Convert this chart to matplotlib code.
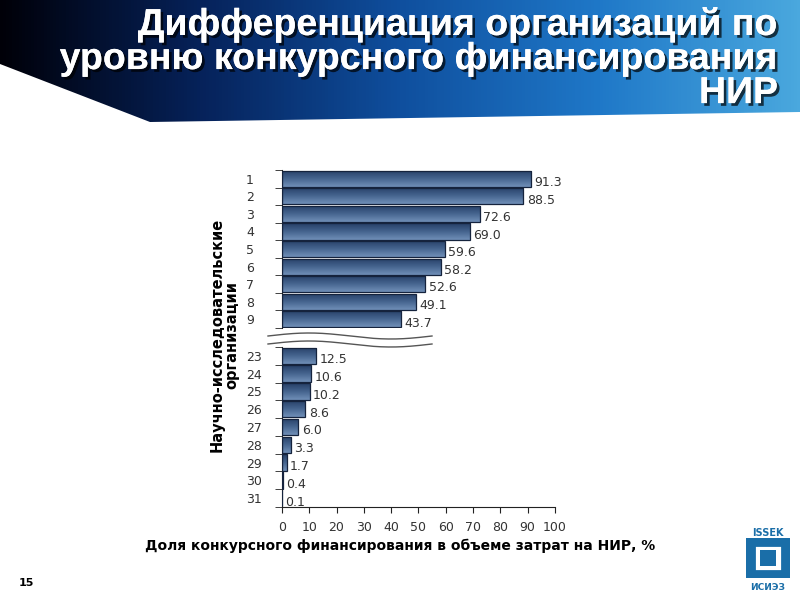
import numpy as np
import matplotlib.pyplot as plt
import matplotlib.patheffects as pe
from matplotlib.patches import Polygon, Rectangle
from matplotlib.colors import LinearSegmentedColormap

# данные
org_top = ['1', '2', '3', '4', '5', '6', '7', '8', '9']
val_top = [91.3, 88.5, 72.6, 69.0, 59.6, 58.2, 52.6, 49.1, 43.7]
org_bot = ['23', '24', '25', '26', '27', '28', '29', '30', '31']
val_bot = [12.5, 10.6, 10.2, 8.6, 6.0, 3.3, 1.7, 0.4, 0.1]
x_ticks = [0, 10, 20, 30, 40, 50, 60, 70, 80, 90, 100]

titulo = 'Дифференциация организаций по\nуровню конкурсного финансирования\nНИР'
eje_y = 'Научно-исследовательские\nорганизации'
eje_x = 'Доля конкурсного финансирования в объеме затрат на НИР, %'

fig = plt.figure(figsize=(8, 6), dpi=100)

# fondo / banner
bg = fig.add_axes([0, 0, 1, 1], zorder=0)
bg.set_xlim(0, 800)
bg.set_ylim(600, 0)
bg.axis('off')
banner_cmap = LinearSegmentedColormap.from_list(
    'banner', ['#000008', '#06225a', '#0f4f9e', '#1f78c8', '#4aa8de'])
grad = np.linspace(0, 1, 256).reshape(1, -1)
im = bg.imshow(grad, cmap=banner_cmap, extent=(0, 800, 125, 0), aspect='auto', zorder=0)
poly = Polygon([(0, 0), (800, 0), (800, 112), (150, 122), (0, 64)], closed=True,
               facecolor='none', edgecolor='none', transform=bg.transData)
bg.add_patch(poly)
im.set_clip_path(poly)

fig.text(0.9725, 0.99, titulo, ha='right', va='top', color='white',
         fontsize=27, fontweight='bold', family=['Liberation Sans', 'DejaVu Sans'],
         linespacing=0.93,
         path_effects=[pe.withSimplePatchShadow(offset=(2, -2), shadow_rgbFace='black', alpha=0.7),
                       pe.Normal()])

bar_cmap = LinearSegmentedColormap.from_list('barra', ['#7190b8', '#45648f', '#263f66'])


def dibujar(ax, cats, vals):
    n = len(cats)
    pos = np.arange(n)
    bars = ax.barh(pos, vals, height=0.92, color='none', edgecolor='#15233d', linewidth=0.9, zorder=3)
    for b in bars:
        x0, y0 = b.get_x(), b.get_y()
        w, h = b.get_width(), b.get_height()
        g = np.linspace(0, 1, 64).reshape(-1, 1)
        img = ax.imshow(g, cmap=bar_cmap, extent=(x0, x0 + max(w, 0.05), y0, y0 + h),
                        aspect='auto', zorder=2, origin='upper')
        img.set_clip_path(b)
    ax.set_xlim(0, 100)
    ax.set_ylim(n - 0.5, -0.5)
    for p, v in zip(pos, vals):
        ax.text(v + 1.2, p + 0.22, f'{v:.1f}', va='center', ha='left', fontsize=9,
                color='#333333', zorder=4)
    ax.set_yticks(pos)
    ax.set_yticklabels(cats, fontsize=9, color='#333333', ha='left')
    ax.set_yticks(np.arange(n + 1) - 0.5, minor=True)
    ax.tick_params(axis='y', which='major', length=0, pad=26)
    ax.tick_params(axis='y', which='minor', length=5, direction='out', color='#222222')
    for s in ['top', 'right']:
        ax.spines[s].set_visible(False)
    ax.spines['left'].set_color('#222222')
    ax.patch.set_alpha(0)


ax1 = fig.add_axes([0.3525, 0.4533, 0.341, 0.2633], zorder=2)
dibujar(ax1, org_top, val_top)
ax1.spines['bottom'].set_visible(False)
ax1.set_xticks([])

ax2 = fig.add_axes([0.3525, 0.155, 0.341, 0.2667], zorder=2)
dibujar(ax2, org_bot, val_bot)
ax2.spines['bottom'].set_color('#222222')
ax2.set_xticks(x_ticks)
ax2.set_xticklabels([str(t) for t in x_ticks], fontsize=9, color='#333333')
ax2.tick_params(axis='x', length=4, direction='out', color='#222222', pad=6)

# marcas de corte
xs = np.linspace(268, 432, 200)
for y0 in (336, 344):
    ys = y0 - 3.0 * np.sin((xs - 268) / 164 * 2 * np.pi)
    bg.plot(xs, ys, color='#555555', lw=1.0, zorder=3)

fig.text(0.281, 0.442, eje_y, rotation=90, ha='center', va='center', fontsize=10.5,
         fontweight='bold', linespacing=1.0)
fig.text(0.5, 0.09, eje_x, ha='center', va='center', fontsize=10, fontweight='bold')
fig.text(0.0325, 0.028, '15', ha='center', va='center', fontsize=8, fontweight='bold')

# logo ISSEK
bg.add_patch(Rectangle((746, 538), 44, 40, facecolor='#1a6ea8', edgecolor='none', zorder=2))
bg.add_patch(Rectangle((754, 545), 28, 26, facecolor='white', edgecolor='#1a6ea8', lw=2, zorder=3))
bg.add_patch(Rectangle((760, 550), 16, 16, facecolor='#1a6ea8', edgecolor='none', zorder=4))
bg.text(768, 533, 'ISSEK', ha='center', va='center', fontsize=7, fontweight='bold', color='#1a6ea8')
bg.text(768, 588, 'ИСИЭЗ', ha='center', va='center', fontsize=6.5, fontweight='bold', color='#1a6ea8')

fig.savefig('out.png', dpi=100)
